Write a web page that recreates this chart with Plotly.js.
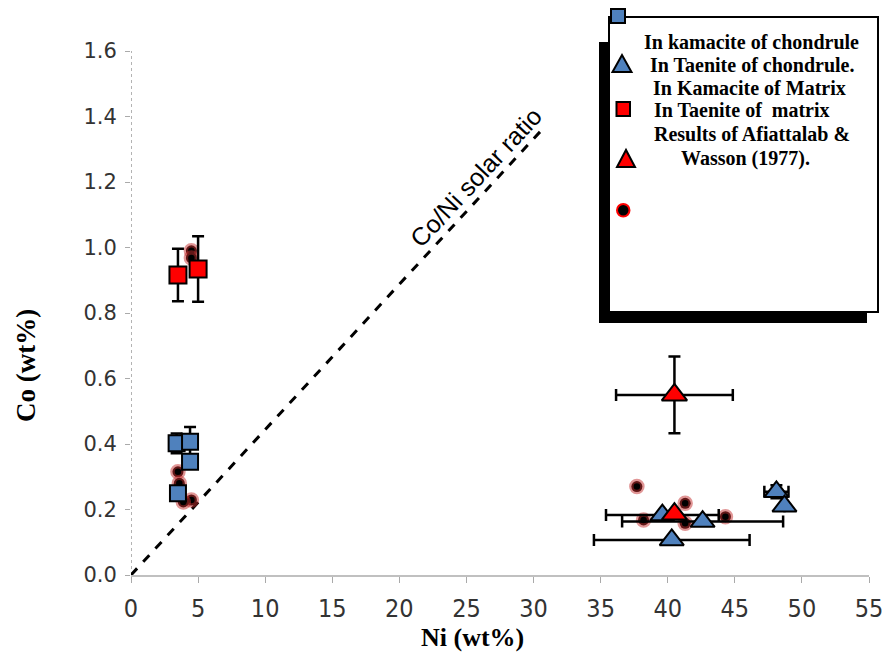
<!DOCTYPE html>
<html>
<head>
<meta charset="utf-8">
<script src="https://cdn.plot.ly/plotly-3.0.1.min.js"></script>
<style>html,body{margin:0;padding:0;background:#fff;}#chart{width:890px;height:660px;}</style>
</head>
<body>
<div id="chart"></div>
<script>
// ---- data ----
// In kamacite of chondrule (blue squares)
const niKamChondrule = [3.4, 4.4, 4.4, 3.5];
const coKamChondrule = [0.402, 0.407, 0.346, 0.25];
const coErrKamChondrule = [0.03, 0.045, 0.02, 0.02];

// In Taenite of chondrule (blue triangles)
const niTaeChondrule = [39.6, 42.6, 40.3, 48.1, 48.7];
const coTaeChondrule = [0.183, 0.163, 0.107, 0.254, 0.21];
const niErrTaeChondrule = [4.2, 6.0, 5.8, 0.9, 0];
const coErrTaeChondrule = [0, 0, 0, 0.02, 0];

// In Taenite of matrix (red squares)
const niTaeMatrix = [3.5, 5.0];
const coTaeMatrix = [0.916, 0.934];
const coErrTaeMatrix = [0.08, 0.10];

// Results of Afiattalab & Wasson (1977) (red triangles)
const niAW = [40.5, 40.5];
const coAW = [0.55, 0.186];
const niErrAW = [4.35, 0];
const coErrAW = [0.117, 0];

// black circles with red rim
const niCircles = [4.5, 4.5, 3.5, 3.6, 4.5, 3.9, 37.7, 38.2, 41.3, 41.3, 44.3];
const coCircles = [0.99, 0.968, 0.315, 0.28, 0.229, 0.223, 0.27, 0.168, 0.219, 0.158, 0.178];

// Co/Ni solar ratio line
const solarNi = [0, 30.5];
const solarCo = [0, 1.354];

// axis ticks
const xTicks = [0, 5, 10, 15, 20, 25, 30, 35, 40, 45, 50, 55];
const yTicks = [0, 0.2, 0.4, 0.6, 0.8, 1.0, 1.2, 1.4, 1.6];
const yTickText = ['0.0', '0.2', '0.4', '0.6', '0.8', '1.0', '1.2', '1.4', '1.6'];

// legend texts
const legendLines = ['In kamacite of chondrule', 'In Taenite of chondrule.', 'In Kamacite of Matrix',
  'In Taenite of  matrix', 'Results of Afiattalab &', 'Wasson (1977).'];

// ---- styling / layout ----
const BLUE = '#4F81BD', RED = '#FF0000';
const L = 131, R = 869, T = 51, B = 575;
const px = x => (x - L) / (R - L);
const py = y => (B - y) / (B - T);

const errStyle = {type: 'data', visible: true, color: '#000', thickness: 2.5, width: 6};

const traces = [
  {x: solarNi, y: solarCo, mode: 'lines', line: {color: '#000', width: 3, dash: 'dash'}, hoverinfo: 'skip', showlegend: false},
  {x: niCircles, y: coCircles, mode: 'markers', showlegend: false,
    marker: {symbol: 'circle', size: 11, color: '#000', line: {color: 'rgba(195,45,45,0.5)', width: 4.5}}},
  {x: niKamChondrule, y: coKamChondrule, mode: 'markers', showlegend: false,
    error_y: Object.assign({array: coErrKamChondrule}, errStyle),
    marker: {symbol: 'square', size: 16, color: BLUE, line: {color: '#000', width: 2}}},
  {x: niTaeChondrule, y: coTaeChondrule, mode: 'markers', showlegend: false,
    error_x: Object.assign({array: niErrTaeChondrule}, errStyle),
    error_y: Object.assign({array: coErrTaeChondrule}, errStyle),
    marker: {symbol: 'triangle-up', size: 21, color: BLUE, line: {color: '#000', width: 2}}},
  {x: niTaeMatrix, y: coTaeMatrix, mode: 'markers', showlegend: false,
    error_y: Object.assign({array: coErrTaeMatrix}, errStyle),
    marker: {symbol: 'square', size: 17, color: RED, line: {color: '#000', width: 2}}},
  {x: niAW, y: coAW, mode: 'markers', showlegend: false,
    error_x: Object.assign({array: niErrAW}, errStyle),
    error_y: Object.assign({array: coErrAW}, errStyle),
    marker: {symbol: 'triangle-up', size: 22, color: RED, line: {color: '#000', width: 2}}}
];

const shapes = [
  // dotted y-axis line
  {type: 'line', xref: 'x', yref: 'paper', x0: 0, x1: 0, y0: 0, y1: 1, layer: 'below',
    line: {color: '#9a9a9a', width: 1.5, dash: 'dot'}},
  // legend shadow and box
  {type: 'rect', xref: 'paper', yref: 'paper', x0: px(599), x1: px(867), y0: py(323), y1: py(42),
    fillcolor: '#000', line: {width: 0}},
  {type: 'rect', xref: 'paper', yref: 'paper', x0: px(609), x1: px(878), y0: py(312), y1: py(17),
    fillcolor: '#fff', line: {color: '#000', width: 2}},
  // legend swatches
  {type: 'rect', xref: 'paper', yref: 'paper', x0: px(611), x1: px(625), y0: py(23), y1: py(9),
    fillcolor: BLUE, line: {color: '#000', width: 2}},
  {type: 'path', xref: 'paper', yref: 'paper',
    path: `M ${px(612.5)},${py(72)} L ${px(631.5)},${py(72)} L ${px(622)},${py(55)} Z`,
    fillcolor: BLUE, line: {color: '#000', width: 2}},
  {type: 'rect', xref: 'paper', yref: 'paper', x0: px(616.5), x1: px(630), y0: py(116), y1: py(102),
    fillcolor: RED, line: {color: '#000', width: 2}},
  {type: 'path', xref: 'paper', yref: 'paper',
    path: `M ${px(617)},${py(167)} L ${px(635)},${py(167)} L ${px(626)},${py(150)} Z`,
    fillcolor: RED, line: {color: '#000', width: 2}},
  {type: 'circle', xref: 'paper', yref: 'paper', x0: px(617), x1: px(629.5), y0: py(216.5), y1: py(204),
    fillcolor: '#000', line: {color: RED, width: 2}}
];

const legendPos = [[751, 42], [752, 65], [749, 87.5], [742, 110], [752, 134], [745, 158]];
const annotations = legendLines.map((t, i) => ({
  xref: 'paper', yref: 'paper', x: px(legendPos[i][0]), y: py(legendPos[i][1]),
  text: '<b>' + t + '</b>', showarrow: false, xanchor: 'center', yanchor: 'middle',
  font: {family: 'Liberation Serif, Times New Roman, serif', size: 20, color: '#000'}
}));
annotations.push(
  {xref: 'x', yref: 'y', x: 25.7, y: 1.216, text: 'Co/Ni solar ratio', showarrow: false, textangle: -47,
    font: {family: 'Liberation Sans, Arial, sans-serif', size: 25, color: '#000'}},
  {xref: 'paper', yref: 'paper', x: px(472), y: py(637), text: '<b>Ni (wt%)</b>', showarrow: false,
    xanchor: 'center', yanchor: 'middle', font: {family: 'Liberation Serif, Times New Roman, serif', size: 26, color: '#000'}},
  {xref: 'paper', yref: 'paper', x: px(26), y: py(366), text: '<b>Co (wt%)</b>', showarrow: false, textangle: -90,
    xanchor: 'center', yanchor: 'middle', font: {family: 'Liberation Serif, Times New Roman, serif', size: 27, color: '#000'}}
);

const layout = {
  width: 890, height: 660,
  margin: {l: L, r: 890 - R, t: T, b: 660 - B},
  paper_bgcolor: '#fff', plot_bgcolor: '#fff',
  showlegend: false,
  xaxis: {range: [0, 55], tickvals: xTicks, ticktext: xTicks.map(String), showgrid: false, zeroline: false,
    showline: true, linecolor: '#c0c0c0', linewidth: 2, ticks: 'outside', ticklen: 6, tickcolor: '#aaa', tickwidth: 1,
    tickfont: {family: 'Liberation Sans Narrow, DejaVu Sans Condensed, Liberation Sans, sans-serif', size: 25, color: '#333'},
    ticklabelstandoff: 4},
  yaxis: {range: [0, 1.6], tickvals: yTicks, ticktext: yTickText, showgrid: false, zeroline: false,
    showline: false, ticks: 'outside', ticklen: 5, tickcolor: '#aaa', tickwidth: 1,
    tickfont: {family: 'DejaVu Sans, Verdana, sans-serif', size: 21, color: '#333'},
    ticklabelstandoff: 4},
  shapes: shapes,
  annotations: annotations
};

Plotly.newPlot('chart', traces, layout, {displayModeBar: false, staticPlot: true});
</script>
</body>
</html>
